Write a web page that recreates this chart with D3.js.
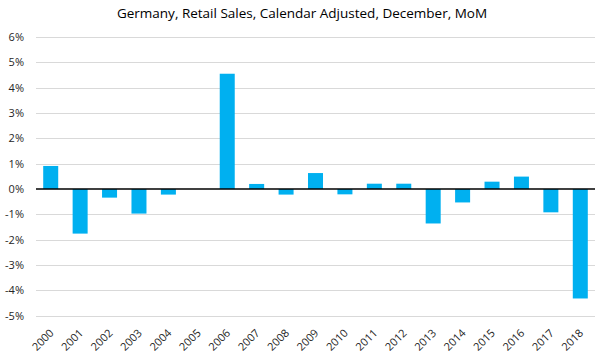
<!DOCTYPE html>
<html><head><meta charset="utf-8">
<script src="https://cdn.jsdelivr.net/npm/d3@7"></script>
<style>body{margin:0;background:#fff;}svg{display:block;}</style>
</head><body>
<svg id="c" width="602" height="359"></svg>
<script>
const years = ["2000","2001","2002","2003","2004","2005","2006","2007","2008","2009","2010","2011","2012","2013","2014","2015","2016","2017","2018"];
const values = [0.91,-1.76,-0.34,-0.97,-0.22,0,4.55,0.2,-0.22,0.63,-0.21,0.21,0.21,-1.36,-0.53,0.29,0.49,-0.92,-4.32];
const yTicks = [-5,-4,-3,-2,-1,0,1,2,3,4,5,6];
const title = "Germany, Retail Sales, Calendar Adjusted, December, MoM";

const svg = d3.select("#c");
const font = "Open Sans, Noto Sans, sans-serif";
const x = d3.scaleBand().domain(years).range([36,595]).paddingInner(0.49).paddingOuter(0.245);
const y = d3.scaleLinear().domain([-5,6]).range([315.7,37]);

svg.append("text").attr("x",302).attr("y",18).attr("text-anchor","middle")
  .attr("font-family",font).attr("font-size",13.5).attr("fill","#000").text(title);

svg.append("g").selectAll("line").data(yTicks.filter(d=>d!==0)).join("line")
  .attr("x1",36).attr("x2",595).attr("y1",d=>Math.round(y(d))+0.5).attr("y2",d=>Math.round(y(d))+0.5)
  .attr("stroke","#d9d9d9").attr("stroke-width",1);

const yAxis = d3.axisLeft(y).tickValues(yTicks).tickSize(0).tickPadding(0).tickFormat(d=>d+"%");
const ga = svg.append("g").attr("transform","translate(24,0)").call(yAxis);
ga.select(".domain").remove();
ga.selectAll("text").attr("font-family",font).attr("font-size",11).attr("fill","#262626");

svg.append("g").selectAll("rect").data(values).join("rect")
  .attr("x",(d,i)=>x(years[i])).attr("width",x.bandwidth())
  .attr("y",d=>y(Math.max(0,d))).attr("height",d=>Math.abs(y(d)-y(0)))
  .attr("fill","#00b0f0");

svg.append("line").attr("x1",36).attr("x2",595).attr("y1",y(0)).attr("y2",y(0))
  .attr("stroke","#000").attr("stroke-width",1.5);

const xAxis = d3.axisBottom(x).tickSize(0).tickPadding(0);
const gx = svg.append("g").attr("transform","translate(0,332)").call(xAxis);
gx.select(".domain").remove();
gx.selectAll("text").attr("font-family",font).attr("font-size",11).attr("fill","#262626")
  .attr("text-anchor","end").attr("dy","0.35em").attr("transform","rotate(-45) translate(1.5,0)");
</script>
</body></html>
